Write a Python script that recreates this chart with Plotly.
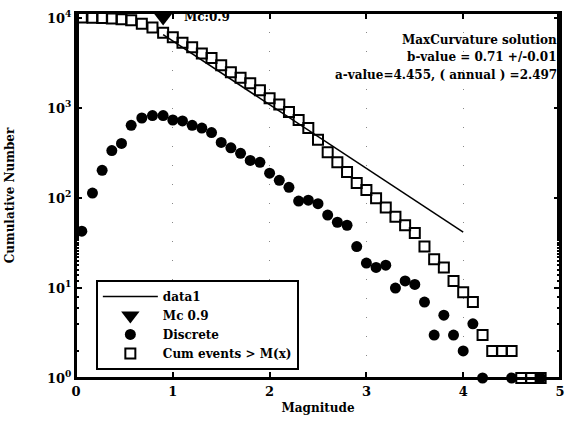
import plotly.graph_objects as go

# magnitude bins
magnitude = [0.06, 0.17, 0.27, 0.37, 0.47, 0.57, 0.68, 0.79, 0.9, 1.0,
             1.1, 1.2, 1.3, 1.4, 1.5, 1.6, 1.7, 1.8, 1.9, 2.0,
             2.1, 2.2, 2.3, 2.4, 2.5, 2.6, 2.7, 2.8, 2.9, 3.0,
             3.1, 3.2, 3.3, 3.4, 3.5, 3.6, 3.7, 3.8, 3.9, 4.0,
             4.1, 4.2, 4.3, 4.4, 4.5, 4.6, 4.7, 4.8]

# events per bin (None = empty bin)
discrete = [43, 114, 204, 339, 407, 646, 780, 830, 830, 741,
            724, 646, 603, 537, 417, 363, 316, 263, 251, 190,
            158, 132, 93, 95, 87, 65, 54, 50, 29, 19,
            17, 18, 10, 12, 11, 7, 3, 5, 3, 2,
            4, 1, None, None, 1, None, None, 1]

# cumulative events >= M
cumulative = [10235, 10192, 10078, 9950, 9800, 9550, 8700, 7940, 6920, 6170,
              5370, 4790, 4070, 3630, 3020, 2510, 2190, 1905, 1585, 1290,
              1100, 912, 741, 603, 447, 324, 251, 195, 148, 123,
              100, 79, 62, 50, 41, 29, 21, 17, 12, 9,
              7, 3, 2, 2, 2, 1, 1, 1]

# fitted G-R line (data1)
fit_mag = [0.9, 4.0]
fit_num = [6600, 42]

mc_mag = [0.9]
mc_num = [10235]

info_lines = ["MaxCurvature solution",
              "b-value = 0.71 +/-0.01",
              "a-value=4.455, ( annual ) =2.497"]
info_y = [0.926, 0.879, 0.830]

FONT = "DejaVu Serif"

fig = go.Figure()

fig.add_trace(go.Scatter(
    x=fit_mag, y=fit_num, name="data1", mode="lines",
    line=dict(color="black", width=1.5)
))

fig.add_trace(go.Scatter(
    x=mc_mag, y=mc_num, name="Mc 0.9", mode="markers",
    marker=dict(symbol="triangle-down", size=16, color="black"),
    cliponaxis=False
))

fig.add_trace(go.Scatter(
    x=magnitude, y=discrete, name="Discrete", mode="markers",
    marker=dict(symbol="circle", size=11, color="black"),
    cliponaxis=False
))

fig.add_trace(go.Scatter(
    x=magnitude, y=cumulative, name="Cum events > M(x)", mode="markers",
    marker=dict(symbol="square-open", size=10, color="black",
                line=dict(width=2, color="black")),
    cliponaxis=False
))

# text block at top right
for txt, yy in zip(info_lines, info_y):
    fig.add_annotation(
        x=0.997, y=yy, xref="paper", yref="paper", xanchor="right", yanchor="middle",
        showarrow=False, text="<b>" + txt + "</b>",
        font=dict(family=FONT, size=12, color="black")
    )

fig.add_annotation(
    x=1.1, y=4.02, xref="x", yref="y", xanchor="left", yanchor="middle",
    showarrow=False, text="<b>Mc:0.9</b>",
    font=dict(family=FONT, size=12, color="black")
)

# box round the axes
fig.add_shape(type="rect", xref="paper", yref="paper", x0=0, y0=0, x1=1, y1=1,
              line=dict(color="black", width=2), layer="above")

fig.update_layout(
    width=571, height=422,
    margin=dict(l=76, r=6, t=13, b=44),
    paper_bgcolor="white", plot_bgcolor="white",
    font=dict(family=FONT, size=12, color="black"),
    showlegend=True,
    legend=dict(
        x=0.041, y=0.022, xanchor="left", yanchor="bottom",
        bgcolor="white", bordercolor="black", borderwidth=2,
        font=dict(family=FONT, size=12, color="black", weight="bold"),
        itemwidth=55, entrywidth=150, tracegroupgap=0
    )
)

fig.update_xaxes(
    range=[0, 5], tickvals=[0, 1, 2, 3, 4, 5],
    ticks="inside", ticklen=6, tickwidth=2, tickcolor="black",
    showline=True, linecolor="black", linewidth=2, mirror="ticks",
    showgrid=True, gridcolor="#888", gridwidth=1, griddash="1px,18px",
    zeroline=False,
    title=dict(text="<b>Magnitude</b>", font=dict(family=FONT, size=12), standoff=6),
    tickfont=dict(family=FONT, size=13, weight="bold")
)

fig.update_yaxes(
    type="log", range=[0, 4.06],
    tickvals=[1, 10, 100, 1000, 10000],
    ticktext=["10<sup>0</sup>", "10<sup>1</sup>", "10<sup>2</sup>",
              "10<sup>3</sup>", "10<sup>4</sup>"],
    ticks="inside", ticklen=6, tickwidth=2, tickcolor="black",
    minor=dict(ticks="inside", ticklen=3, tickcolor="black", showgrid=False),
    showline=True, linecolor="black", linewidth=2, mirror="ticks",
    showgrid=False, zeroline=False, automargin=False,
    title=dict(text="<b>Cumulative Number</b>", font=dict(family=FONT, size=12), standoff=30),
    tickfont=dict(family=FONT, size=13, weight="bold")
)

fig.write_html("out.html", config={"displayModeBar": False},
               post_script="document.body.style.margin='0px';")
